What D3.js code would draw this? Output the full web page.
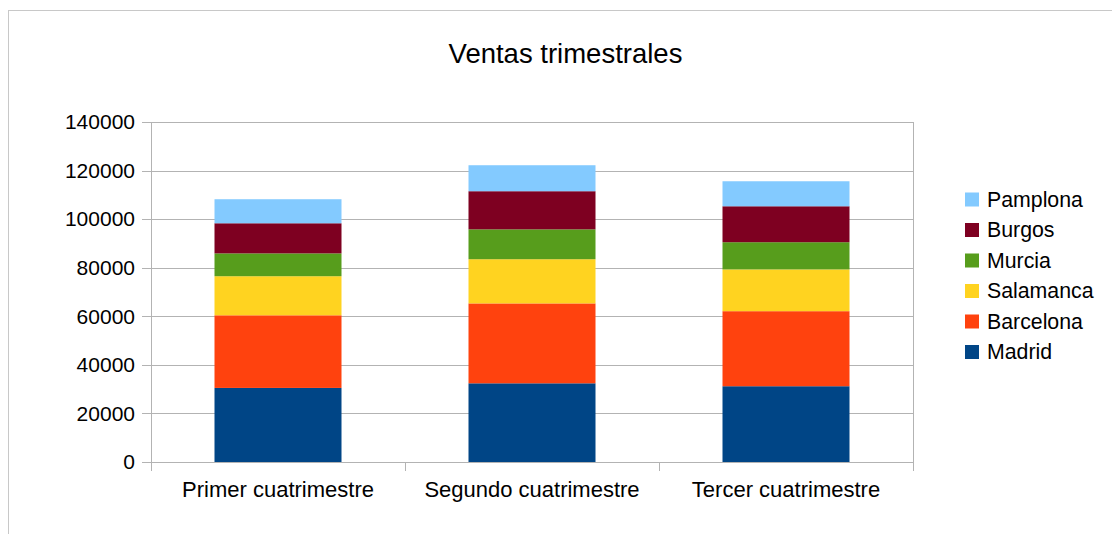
<!DOCTYPE html>
<html>
<head>
<meta charset="utf-8">
<script src="https://cdn.jsdelivr.net/npm/d3@7"></script>
<style>
  body { margin: 0; background: #fff; }
  svg { display: block; font-family: "Liberation Sans", Arial, sans-serif; }
</style>
</head>
<body>
<script>
// quarterly sales, one array per city
const categories = ['Primer cuatrimestre', 'Segundo cuatrimestre', 'Tercer cuatrimestre'];
const cities = ['Madrid', 'Barcelona', 'Salamanca', 'Murcia', 'Burgos', 'Pamplona'];
const madrid = [30500, 32400, 31200];
const barcelona = [29900, 32900, 30900];
const salamanca = [16100, 18200, 17200];
const murcia = [9400, 12300, 11200];
const burgos = [12400, 15700, 14800];
const pamplona = [9900, 10700, 10300];
const colors = ['#004586', '#ff420e', '#ffd320', '#579d1c', '#7e0021', '#83caff'];
const yTicks = [0, 20000, 40000, 60000, 80000, 100000, 120000, 140000];

(function () {
  const series = [madrid, barcelona, salamanca, murcia, burgos, pamplona];
  const rows = categories.map((c, i) => {
    let r = {cat: c};
    cities.forEach((k, j) => r[k] = series[j][i]);
    return r;
  });

  const width = 1112, height = 534;
  const pLeft = 151, pRight = 913, pTop = 122, pBottom = 462;

  const svg = d3.select('body').append('svg')
    .attr('width', width)
    .attr('height', height);

  // outer frame
  svg.append('rect')
    .attr('x', 8.5).attr('y', 10.5)
    .attr('width', 1120).attr('height', 600)
    .attr('fill', 'none')
    .attr('stroke', '#c8c8c8');

  const x = d3.scaleBand().domain(categories).range([pLeft, pRight])
    .paddingInner(0.5).paddingOuter(0.25);
  const y = d3.scaleLinear().domain([0, 140000]).range([pBottom, pTop]);
  const color = d3.scaleOrdinal().domain(cities).range(colors);

  // grid
  svg.append('g').selectAll('line').data(yTicks).enter().append('line')
    .attr('x1', pLeft - 9).attr('x2', pRight)
    .attr('y1', d => Math.round(y(d)) + 0.5)
    .attr('y2', d => Math.round(y(d)) + 0.5)
    .attr('stroke', '#b3b3b3');

  // right border of plot area
  svg.append('line')
    .attr('x1', pRight + 0.5).attr('x2', pRight + 0.5)
    .attr('y1', pTop).attr('y2', pBottom + 9)
    .attr('stroke', '#b3b3b3');

  const stack = d3.stack().keys(cities)(rows);

  svg.append('g').selectAll('g').data(stack).enter().append('g')
    .attr('fill', d => color(d.key))
    .selectAll('rect').data(d => d).enter().append('rect')
    .attr('x', d => x(d.data.cat))
    .attr('width', x.bandwidth())
    .attr('y', d => y(d[1]))
    .attr('height', d => y(d[0]) - y(d[1]));

  // axes
  svg.append('line')
    .attr('x1', pLeft + 0.5).attr('x2', pLeft + 0.5)
    .attr('y1', pTop).attr('y2', pBottom + 9)
    .attr('stroke', '#b3b3b3');
  const step = x.step();
  const xTicks = d3.range(categories.length + 1).map(i => pLeft + i * step);
  svg.append('g').selectAll('line').data(xTicks).enter().append('line')
    .attr('x1', d => Math.round(d) + 0.5).attr('x2', d => Math.round(d) + 0.5)
    .attr('y1', pBottom).attr('y2', pBottom + 9)
    .attr('stroke', '#b3b3b3');

  svg.append('g').selectAll('text').data(yTicks).enter().append('text')
    .attr('x', 135)
    .attr('y', d => y(d))
    .attr('dy', '0.35em')
    .attr('text-anchor', 'end')
    .attr('font-size', 21)
    .attr('fill', '#000')
    .text(d => d);

  svg.append('g').selectAll('text').data(categories).enter().append('text')
    .attr('x', d => x(d) + x.bandwidth() / 2)
    .attr('y', 497)
    .attr('text-anchor', 'middle')
    .attr('font-size', 22)
    .text(d => d);

  svg.append('text')
    .attr('x', 565.5).attr('y', 63)
    .attr('text-anchor', 'middle')
    .attr('font-size', 27.5)
    .text('Ventas trimestrales');

  // legend, top to bottom in reverse stack order
  const legend = svg.append('g').selectAll('g').data(cities.slice().reverse()).enter().append('g')
    .attr('transform', (d, i) => `translate(965, ${199.5 + i * 30.5})`);
  legend.append('rect')
    .attr('y', -7).attr('width', 14).attr('height', 14)
    .attr('fill', d => color(d));
  legend.append('text')
    .attr('x', 22).attr('dy', '0.35em')
    .attr('font-size', 21.3)
    .text(d => d);
})();
</script>
</body>
</html>
